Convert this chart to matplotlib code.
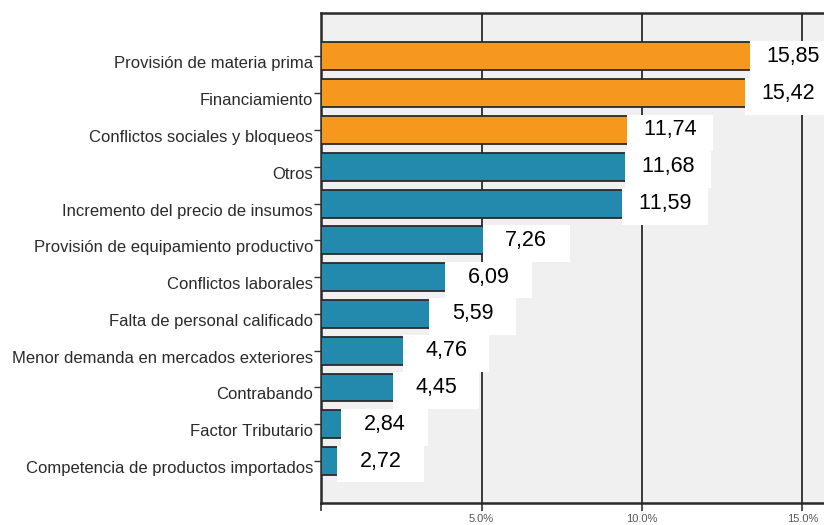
import matplotlib
matplotlib.use("Agg")
import matplotlib.pyplot as plt
from matplotlib.patches import Rectangle

categories = [
    "Provisión de materia prima",
    "Financiamiento",
    "Conflictos sociales y bloqueos",
    "Otros",
    "Incremento del precio de insumos",
    "Provisión de equipamiento productivo",
    "Conflictos laborales",
    "Falta de personal calificado",
    "Menor demanda en mercados exteriores",
    "Contrabando",
    "Factor Tributario",
    "Competencia de productos importados",
]
values = [15.85, 15.42, 11.74, 11.68, 11.59, 7.26, 6.09, 5.59, 4.76, 4.45, 2.84, 2.72]
labels = ["15,85", "15,42", "11,74", "11,68", "11,59", "7,26", "6,09", "5,59", "4,76", "4,45", "2,84", "2,72"]
highlight = [True, True, True] + [False] * 9
xticks = [0, 5, 10, 15]
xticklabels = ["", "5.0%", "10.0%", "15.0%"]

ORANGE = "#F7981E"
TEAL = "#2389AD"

plt.rcParams["font.family"] = ["Liberation Sans", "DejaVu Sans"]
plt.rcParams["text.kerning_factor"] = 6

fig = plt.figure(figsize=(8.24, 5.25), dpi=100)
W, H = 824, 525
ax = fig.add_axes([321.3 / W, 1 - 503 / H, 1 - 321.3 / W, (503 - 13) / H])
ax.set_facecolor("#F0F0F0")

y = list(range(len(categories)))
colors = [ORANGE if h else TEAL for h in highlight]
ax.barh(y, values, height=0.76, color=colors, edgecolor="#2a2a2a", linewidth=1.3, zorder=3)

xmax = (824 - 321.3) / 32.07
ax.set_xlim(0, xmax)
ax.set_ylim(len(categories) - 1 + 1.14, -1.18)

ax.set_xticks(xticks)
ax.set_xticklabels(xticklabels, fontsize=8, color="#555555")
ax.set_yticks(y)
ax.set_yticklabels(categories, fontsize=12, color="#2a2a2a")
ax.tick_params(axis="y", length=5, width=1, color="#333333", pad=1)
ax.tick_params(axis="x", length=6, width=1.2, color="#333333", pad=2)
for lbl in ax.get_yticklabels():
    lbl.set_va("top")

ax.xaxis.grid(True, color="#3a3a3a", linewidth=1.4, zorder=1)
ax.set_axisbelow(True)

for s in ["left", "top", "bottom"]:
    ax.spines[s].set_color("#2a2a2a")
    ax.spines[s].set_linewidth(1.8)
ax.spines["right"].set_visible(False)

box_w = 2.7
box_h = 1.0
for i, (v, t) in enumerate(zip(values, labels)):
    cx = min(v - 0.87, xmax - 0.95)
    ax.add_patch(Rectangle((cx - box_w / 2, i + 0.08 - box_h / 2), box_w, box_h,
                           facecolor="white", edgecolor="none", zorder=4, clip_on=False))
    ax.text(cx, i, t, ha="center", va="center", fontsize=15.5, color="black", zorder=5)

fig.savefig("out.png", dpi=100)
